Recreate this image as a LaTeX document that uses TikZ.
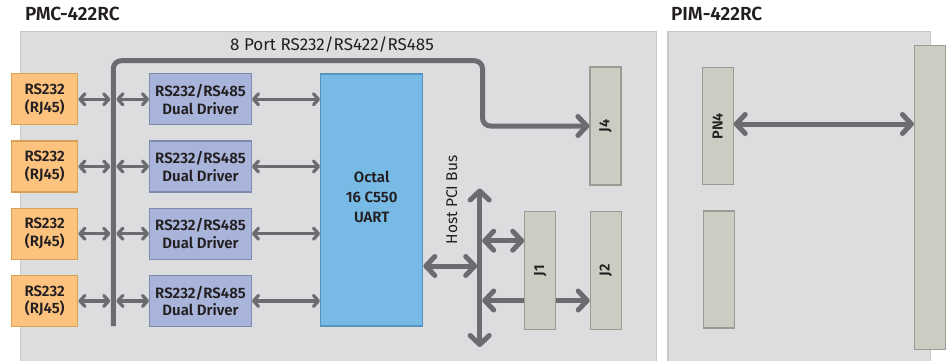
\documentclass[tikz,border=0pt]{standalone}
\usepackage{fontspec}
\setmainfont{Fira Sans}[BoldFont={Fira Sans SemiBold}]
\usetikzlibrary{arrows.meta,positioning,calc}
\definecolor{panelfill}{HTML}{DCDDDF}
\definecolor{panelline}{HTML}{C6C7C9}
\definecolor{portfill}{HTML}{FCC27E}
\definecolor{portline}{HTML}{D6A255}
\definecolor{drvfill}{HTML}{A8B4DA}
\definecolor{drvline}{HTML}{7E8AAE}
\definecolor{uartfill}{HTML}{78BAE6}
\definecolor{uartline}{HTML}{5A93BD}
\definecolor{connfill}{HTML}{CACDC2}
\definecolor{connline}{HTML}{999C92}
\definecolor{wire}{HTML}{6B6C6F}
\definecolor{ink}{HTML}{231F20}
\tikzset{
  lt/.tip={Straight Barb[length=5pt,width=11pt,round]},
  bt/.tip={Straight Barb[length=9pt,width=19pt,round]},
}
\begin{document}
\begin{tikzpicture}[x=1pt,y=-1pt,
  panel/.style={draw=panelline,fill=panelfill,line width=1.2pt,inner sep=0pt,anchor=north west},
  box/.style={draw,line width=1.2pt,inner sep=0pt,align=center,text=ink,font=\bfseries\fontsize{15}{17.7}\selectfont},
  port/.style={box,draw=portline,fill=portfill,minimum width=66pt,minimum height=51pt},
  driver/.style={box,draw=drvline,fill=drvfill,minimum width=101.6pt,minimum height=51pt},
  conn/.style={box,draw=connline,fill=connfill,minimum width=31pt},
  title/.style={anchor=base west,text=ink,font=\bfseries\fontsize{19}{22}\selectfont},
  plain/.style={text=ink,font=\fontsize{17}{20}\selectfont},
  jtext/.style={rotate=90,text=ink,font=\bfseries\fontsize{14.5}{17}\selectfont},
  link/.style={draw=wire,line width=3.2pt,lt-lt},
  trunk/.style={draw=wire,line width=5pt}]
\useasboundingbox (0,0) rectangle (947,360);

% boards
\node[panel,minimum width=636.5pt,minimum height=335pt] (pmc) at (19.5,31) {};
\node[panel,minimum width=262.6pt,minimum height=335pt] (pim) at (667.4,31) {};
\node[title] (pmctitle) at (21.5,20.9) {PMC-422RC};
\node[title] (pimtitle) at (667.5,20.9) {PIM-422RC};
\node[plain,anchor=base] (porttitle) at (332,50) {8 Port RS232/RS422/RS485};

% connectors
\node[conn,minimum height=118pt] (j4) at (605.5,126) {};
\node[conn,minimum height=118pt] (j1) at (540.3,270.5) {};
\node[conn,minimum height=118pt] (j2) at (605.8,270.5) {};
\node[conn,minimum height=117pt] (pn4) at (717.6,126.2) {};
\node[conn,minimum height=117pt] (pn4low) at (718.8,269.5) {};
\node[conn,minimum height=304pt] (edge) at (930,197.6) {};
\node[jtext] (j4txt) at (j4) {J4};
\node[jtext] (j1txt) at (j1) {J1};
\node[jtext] (j2txt) at (j2) {J2};
\node[jtext] (pn4txt) at (pn4) {PN4};

% UART
\node[box,draw=uartline,fill=uartfill,minimum width=102pt,minimum height=252pt] (uart) at (371.7,200) {};
\node[box,draw=none,font=\bfseries\fontsize{15}{20}\selectfont] (uarttxt) at (371.7,197) {Octal\\16 C550\\UART};

% serial bus
\coordinate (busbot) at (113.3,326);
\coordinate (busbend) at (482.5,60.7);
\draw[trunk,rounded corners=8pt,-bt] (busbot) |- (busbend) |- (j4.west);

\foreach \i/\y in {1/99.3,2/166.5,3/233.7,4/300.9}{
  \node[port] (rs\i) at (44.7,\y) {RS232\\(RJ45)};
  \node[driver] (drv\i) at (200.5,\y) {RS232/RS485\\Dual Driver};
  \draw[link,shorten >=3pt] (rs\i.east) -- (rs\i.east -| busbot);
  \draw[link,shorten <=3pt] (drv\i.west -| busbot) -- (drv\i.west);
  \draw[link] (drv\i.east) -- (drv\i.east -| uart.west);
}

% host PCI bus
\coordinate (pcitop) at (479.7,188.5);
\coordinate (pcibot) at (479.7,347);
\coordinate (pcimid) at (479.7,266);
\coordinate (pciup) at (479.7,240.7);
\coordinate (pcilow) at (479.7,300.5);
\node[plain,rotate=90,font=\fontsize{15.5}{18}\selectfont] (pcitxt) at (451.7,200) {Host PCI Bus};
\draw[trunk,bt-bt] (pcitop) -- (pcibot);
\draw[trunk,bt-bt,shorten >=2.5pt] (pcimid -| uart.east) -- (pcimid);
\draw[trunk,bt-bt,shorten <=2.5pt] (pciup) -- (pciup -| j1.west);
\draw[trunk,bt-,shorten <=2.5pt] (pcilow) -- (pcilow -| j1.west);
\draw[trunk,-bt] (pcilow -| j1.east) -- (pcilow -| j2.west);

% PIM link
\draw[trunk,bt-bt] (pn4.east |- 0,124) -- (edge.west |- 0,124);
\end{tikzpicture}
\end{document}
